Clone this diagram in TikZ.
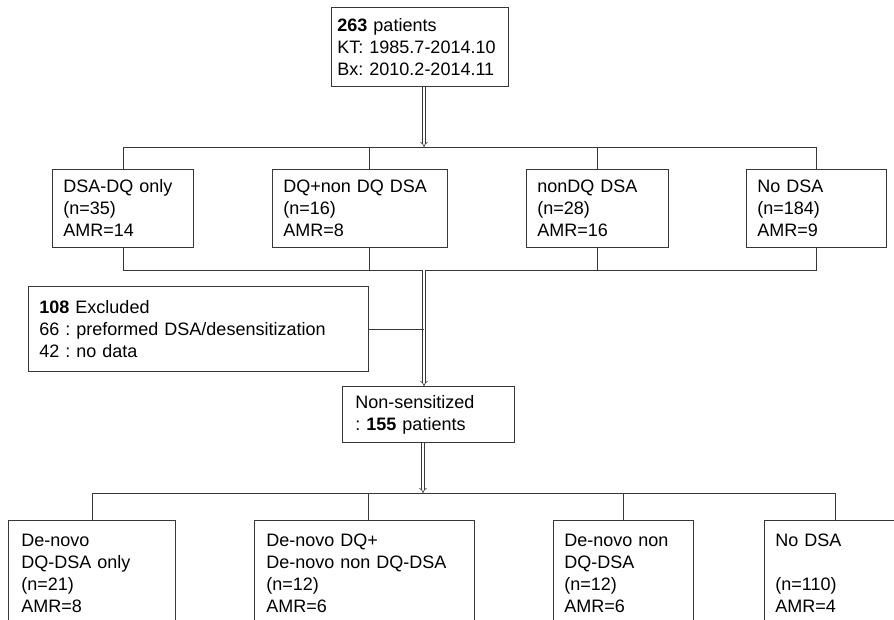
\documentclass[tikz,border=0pt]{standalone}
\usepackage{fontspec}
\setmainfont{Liberation Sans}
\usetikzlibrary{positioning,arrows.meta}
\definecolor{linegray}{RGB}{55,55,55}

\begin{document}
\frenchspacing
\begin{tikzpicture}[x=1pt,y=-1pt,
    box/.style={draw=linegray,line width=0.9pt,anchor=north west,align=left,
        inner xsep=11pt,inner ysep=0pt,font=\fontsize{18}{22}\selectfont},
    link/.style={draw=linegray,line width=0.9pt},
    dbl/.style={draw=linegray,double,double distance=2pt,line width=0.6pt,-{Implies}}]
    \useasboundingbox (0,0) rectangle (894,620);
    \clip (0,0) rectangle (894,620);
    % all patients
    \node[box,inner xsep=6pt,text width=165pt,minimum height=79pt] (all) at (331,7)
        {\textbf{263} patients\\KT: 1985.7-2014.10\\Bx: 2010.2-2014.11};
    % first split
    \node[box,text width=119pt,minimum height=78pt] (dqonly) at (52,169) {DSA-DQ only\\(n=35)\\AMR=14};
    \node[box,text width=153pt,minimum height=78pt] (dqmix) at (272,169) {DQ+non DQ DSA\\(n=16)\\AMR=8};
    \node[box,text width=120pt,minimum height=78pt] (nondq) at (526,169) {nonDQ DSA\\(n=28)\\AMR=16};
    \node[box,text width=118pt,minimum height=78pt] (nodsa) at (746,169) {No DSA\\(n=184)\\AMR=9};
    % exclusion
    \node[box,text width=318pt,minimum height=85pt] (excl) at (28,286)
        {\textbf{108} Excluded\\66 : preformed DSA/desensitization\\42 : no data};
    \node[box,inner xsep=13pt,text width=146pt,minimum height=56pt] (nonsens) at (342,386)
        {Non-sensitized\\: \textbf{155} patients};
    % de-novo split
    \node[box,inner xsep=13pt,text width=141pt,minimum height=106pt] (dnonly) at (8,520)
        {De-novo\\DQ-DSA only\\(n=21)\\AMR=8};
    \node[box,inner xsep=12pt,text width=196pt,minimum height=106pt] (dnmix) at (254,520)
        {De-novo DQ+\\De-novo non DQ-DSA\\(n=12)\\AMR=6};
    \node[box,text width=118pt,minimum height=106pt] (dnnondq) at (553,520)
        {De-novo non\\DQ-DSA\\(n=12)\\AMR=6};
    \node[box,text width=120pt,minimum height=106pt] (dnnodsa) at (764,520)
        {No DSA\\\mbox{}\\(n=110)\\AMR=4};

    \coordinate (bus1) at (424,147);
    \coordinate (bus2) at (424,270);
    \coordinate (bus3) at (423,493);

    \draw[dbl] (all.south -| bus1) -- (bus1);
    \draw[link] (dqonly.north) -- (dqonly.north |- bus1) -- (nodsa.north |- bus1) -- (nodsa.north);
    \draw[link] ([xshift=9.5pt]dqmix.north) -- ([xshift=9.5pt]dqmix.north |- bus1);
    \draw[link] (nondq.north) -- (nondq.north |- bus1);
    \draw[link] (dqonly.south) -- (dqonly.south |- bus2) -- (nodsa.south |- bus2) -- (nodsa.south);
    \draw[link] ([xshift=9.5pt]dqmix.south) -- ([xshift=9.5pt]dqmix.south |- bus2);
    \draw[link] (nondq.south) -- (nondq.south |- bus2);
    \draw[dbl] (bus2) -- (bus2 |- nonsens.north);
    \draw[link] (excl.east) -- (excl.east -| bus2);
    \draw[dbl] (nonsens.south -| bus3) -- (bus3);
    \draw[link] (dnonly.north) -- (dnonly.north |- bus3) -- (dnnodsa.north |- bus3) -- (dnnodsa.north);
    \draw[link] ([xshift=4pt]dnmix.north) -- ([xshift=4pt]dnmix.north |- bus3);
    \draw[link] (dnnondq.north) -- (dnnondq.north |- bus3);
\end{tikzpicture}
\end{document}
